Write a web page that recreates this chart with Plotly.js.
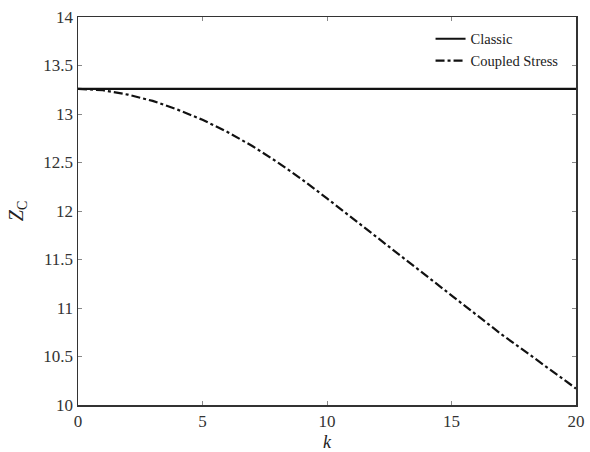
<!DOCTYPE html>
<html>
<head>
<meta charset="utf-8">
<script src="https://cdn.plot.ly/plotly-3.0.1.min.js"></script>
<style>html,body{margin:0;padding:0;background:#fff;}#chart{width:590px;height:452px;}</style>
</head>
<body>
<div id="chart"></div>
<script>
const kValues = [0,1,2,3,4,5,6,7,8,9,10,11,12,13,14,15,16,17,18,19,20];
const classicZ = [13.26,13.26,13.26,13.26,13.26,13.26,13.26,13.26,13.26,13.26,13.26,13.26,13.26,13.26,13.26,13.26,13.26,13.26,13.26,13.26,13.26];
const coupledZ = [13.26,13.245,13.20,13.135,13.045,12.94,12.815,12.67,12.505,12.325,12.13,11.93,11.73,11.53,11.33,11.125,10.925,10.73,10.545,10.36,10.17];
const seriesNames = ["Classic", "Coupled Stress"];
const xTicks = [0,5,10,15,20];
const yTicks = [10,10.5,11,11.5,12,12.5,13,13.5,14];
const yTickText = ["10","10.5","11","11.5","12","12.5","13","13.5","14"];

const FAM = "'Liberation Serif', 'Times New Roman', serif";
const font = {family: FAM, color: "#333", size: 16};

const traces = [
  {x: kValues, y: classicZ, name: seriesNames[0], mode: "lines",
   line: {color: "#111", width: 2.2, dash: "solid"}},
  {x: kValues, y: coupledZ, name: seriesNames[1], mode: "lines",
   line: {color: "#111", width: 2.2, dash: "dashdot"}}
];

const layout = {
  width: 590, height: 452,
  margin: {l: 78, r: 14, t: 17, b: 47},
  paper_bgcolor: "#fff", plot_bgcolor: "#fff",
  font: font,
  showlegend: true,
  legend: {x: 0.975, y: 0.985, xanchor: "right", yanchor: "top",
    bgcolor: "rgba(0,0,0,0)", borderwidth: 0,
    font: {family: FAM, size: 14.5, color: "#222"},
    itemwidth: 30, tracegroupgap: 0},
  xaxis: {range: [0, 20], tickvals: xTicks, ticktext: xTicks.map(String),
    showgrid: false, zeroline: false, showline: true, mirror: "ticks",
    linecolor: "#333", linewidth: 1.5, ticks: "inside", ticklen: 4, tickcolor: "#888",
    tickfont: {family: FAM, size: 17, color: "#333"},
    title: {text: "<i>k</i>", font: {family: FAM, size: 18, color: "#222"}, standoff: 14}},
  yaxis: {range: [10, 14], tickvals: yTicks, ticktext: yTickText,
    showgrid: false, zeroline: false, showline: true, mirror: "ticks",
    linecolor: "#333", linewidth: 1.5, ticks: "inside", ticklen: 4, tickcolor: "#888",
    tickfont: {family: FAM, size: 17, color: "#333"},
    title: {text: "<i>Z</i><sub>C</sub>", font: {family: FAM, size: 20, color: "#222"}, standoff: 14}}
};

Plotly.newPlot("chart", traces, layout, {displayModeBar: false, staticPlot: true});
</script>
</body>
</html>
